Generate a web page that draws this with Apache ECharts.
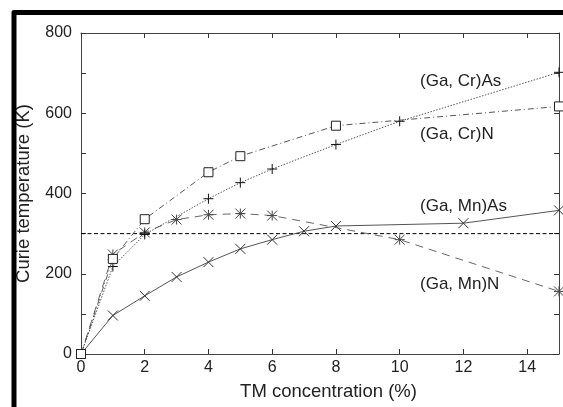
<!DOCTYPE html>
<html>
<head>
<meta charset="utf-8">
<script src="https://cdn.jsdelivr.net/npm/echarts@6/dist/echarts.min.js"></script>
<style>
  html, body { margin: 0; padding: 0; background: #fff; }
  #chart { width: 563px; height: 407px; }
</style>
</head>
<body>
<div id="chart"></div>
<script>
// Curie temperature vs. transition-metal concentration
const xTicks = [0, 2, 4, 6, 8, 10, 12, 14];
const yTicks = [0, 200, 400, 600, 800];

const mnAsConc = [0, 1, 2, 3, 4, 5, 6, 7, 8, 12, 15];
const mnAsTc   = [0, 96, 145, 192, 229, 262, 285, 306, 319, 326, 358];

const mnNConc  = [0, 1, 2, 3, 4, 5, 6, 10, 15];
const mnNTc    = [0, 248, 303, 335, 347, 350, 345, 285, 156];

const crAsConc = [0, 1, 2, 4, 5, 6, 8, 10, 15];
const crAsTc   = [0, 218, 298, 387, 427, 461, 522, 580, 702];

const crNConc  = [0, 1, 2, 4, 5, 8, 15];
const crNTc    = [0, 237, 336, 453, 493, 569, 617];

const roomTemp = 300;

const seriesNames = ['(Ga, Mn)As', '(Ga, Mn)N', '(Ga, Cr)As', '(Ga, Cr)N'];

const pairs = (xs, ys) => xs.map((x, i) => [x, ys[i]]);

const FONT = 'Liberation Sans, Arial, sans-serif';

const SYM_PLUS  = 'path://M5 0 L5 10 M0 5 L10 5';
const SYM_CROSS = 'path://M0 0 L10 10 M10 0 L0 10';
const SYM_STAR  = 'path://M0 0 L10 10 M10 0 L0 10 M5 0 L5 10 M0 5 L10 5';

const chart = echarts.init(document.getElementById('chart'), null, { renderer: 'canvas' });

const tickStyle = { show: true, inside: true, length: 5, lineStyle: { color: '#333', width: 1 } };
const axisLine = { show: true, onZero: false, lineStyle: { color: '#444', width: 1 } };

chart.setOption({
  animation: false,
  backgroundColor: '#fff',
  grid: { left: 81, right: 4, top: 33, bottom: 53, containLabel: false },
  xAxis: [
    {
      type: 'value', min: 0, max: 15, interval: 2, position: 'bottom',
      axisLine: axisLine, axisTick: tickStyle, splitLine: { show: false },
      axisLabel: {
        showMaxLabel: false, margin: 6, color: '#222', fontSize: 16, fontFamily: FONT,
        formatter: v => (xTicks.indexOf(v) >= 0 ? String(v) : '')
      },
      name: 'TM concentration (%)', nameLocation: 'middle', nameGap: 28,
      nameTextStyle: { fontSize: 18.5, color: '#222', fontFamily: FONT, padding: [0, 0, 0, 17] }
    },
    {
      type: 'value', min: 0, max: 15, interval: 2, position: 'top',
      axisLine: axisLine, axisTick: tickStyle, splitLine: { show: false },
      axisLabel: { show: false }
    }
  ],
  yAxis: [
    {
      type: 'value', min: 0, max: 800, interval: 100, position: 'left',
      axisLine: axisLine, axisTick: tickStyle, splitLine: { show: false },
      axisLabel: {
        margin: 9, color: '#222', fontSize: 16, fontFamily: FONT,
        formatter: v => (yTicks.indexOf(v) >= 0 ? String(v) : '')
      },
      name: 'Curie temperature (K)', nameLocation: 'middle', nameGap: 48,
      nameTextStyle: { fontSize: 18.5, color: '#222', fontFamily: FONT }
    },
    {
      type: 'value', min: 0, max: 800, interval: 100, position: 'right',
      axisLine: axisLine, axisTick: tickStyle, splitLine: { show: false },
      axisLabel: { show: false }
    }
  ],
  series: [
    {
      name: 'room temperature', type: 'line', symbol: 'none', silent: true,
      data: [[0, roomTemp], [15, roomTemp]],
      lineStyle: { color: '#000', width: 1, type: [4, 2.5] }, z: 1
    },
    {
      name: seriesNames[0], type: 'line', data: pairs(mnAsConc, mnAsTc),
      symbol: SYM_CROSS, symbolSize: 10,
      lineStyle: { color: '#555', width: 1, type: 'solid' },
      itemStyle: { color: 'transparent', borderColor: '#333', borderWidth: 1 }, z: 2
    },
    {
      name: seriesNames[1], type: 'line', data: pairs(mnNConc, mnNTc),
      symbol: SYM_STAR, symbolSize: 10,
      lineStyle: { color: '#666', width: 1, type: [8, 6] },
      itemStyle: { color: 'transparent', borderColor: '#444', borderWidth: 1 }, z: 3
    },
    {
      name: seriesNames[2], type: 'line', data: pairs(crAsConc, crAsTc),
      symbol: SYM_PLUS, symbolSize: 10,
      lineStyle: { color: '#555', width: 1, type: [1.5, 1.5] },
      itemStyle: { color: 'transparent', borderColor: '#111', borderWidth: 1 }, z: 4
    },
    {
      name: seriesNames[3], type: 'line', data: pairs(crNConc, crNTc),
      symbol: 'rect', symbolSize: 9,
      lineStyle: { color: '#555', width: 1, type: [6, 3, 1, 3] },
      itemStyle: { color: '#fff', borderColor: '#222', borderWidth: 1 }, z: 5
    }
  ],
  graphic: [
    // heavy frame along the top and left edges
    { type: 'polyline', shape: { points: [[14, 407], [14, 12.5], [563, 12.5]] },
      style: { stroke: '#000', lineWidth: 5, fill: null, lineJoin: 'round' }, z: 10 },
    // series labels
    { type: 'text', left: 420, top: 73, style: { text: seriesNames[2], fontSize: 17, fontFamily: FONT, fill: '#222' } },
    { type: 'text', left: 420, top: 126, style: { text: seriesNames[3], fontSize: 17, fontFamily: FONT, fill: '#222' } },
    { type: 'text', left: 420, top: 198, style: { text: seriesNames[0], fontSize: 17, fontFamily: FONT, fill: '#222' } },
    { type: 'text', left: 420, top: 276, style: { text: seriesNames[1], fontSize: 17, fontFamily: FONT, fill: '#222' } }
  ]
});
</script>
</body>
</html>
